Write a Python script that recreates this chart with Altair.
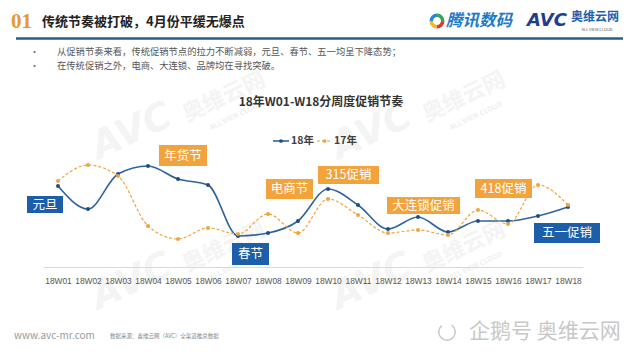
import altair as alt
import pandas as pd

FONT = "Noto Sans CJK SC"

# ---------------- data ----------------
weeks = ["18W01", "18W02", "18W03", "18W04", "18W05", "18W06", "18W07", "18W08", "18W09",
         "18W10", "18W11", "18W12", "18W13", "18W14", "18W15", "18W16", "18W17", "18W18"]
series_names = ["18年", "17年"]
values_18 = [84, 61, 96, 104, 91, 85, 34, 37, 49, 81, 65, 41, 53, 38, 49, 49, 54, 63]
values_17 = [89, 105, 94, 44, 31, 42, 36, 56, 37, 71, 55, 37, 40, 35, 60, 46, 85, 65]

blue_labels = ["元旦", "春节", "五一促销"]
orange_labels = ["年货节", "电商节", "315促销", "大连锁促销", "418促销"]

title_num = "01"
title_text = "传统节奏被打破，4月份平缓无爆点"
bullets = ["从促销节奏来看，传统促销节点的拉力不断减弱，元旦、春节、五一均呈下降态势；",
           "在传统促销之外，电商、大连锁、品牌均在寻找突破。"]
chart_title = "18年W01-W18分周度促销节奏"

df = pd.DataFrame({
    "week": weeks * 2,
    "value": values_18 + values_17,
    "series": [series_names[0]] * len(weeks) + [series_names[1]] * len(weeks),
})

BLUE_LINE = "#2E63A0"
BLUE_DOT = "#1F4E82"
ORANGE = "#EFA43C"
BOX_BLUE = "#1C5EA8"
BOX_ORANGE = "#F2A33C"

one = pd.DataFrame({"k": [0]})
OFF = 8  # page margin


def txt(s, x, y, size, color, weight="normal", align="left", baseline="middle",
        font=FONT, angle=0, style="normal"):
    kw = dict(text=s, align=align, baseline=baseline, fontSize=size, color=color,
              fontWeight=weight, font=font, fontStyle=style)
    if angle:
        kw["angle"] = angle
    return alt.Chart(one).mark_text(**kw).encode(x=alt.value(x - OFF), y=alt.value(y - OFF))


def box(x0, x1, y0, y1, color):
    return alt.Chart(one).mark_rect(color=color).encode(
        x=alt.value(x0 - OFF), x2=alt.value(x1 - OFF),
        y=alt.value(y0 - OFF), y2=alt.value(y1 - OFF))


def hrule(x0, x1, y, color, width, dash=None):
    kw = dict(color=color, strokeWidth=width)
    if dash:
        kw["strokeDash"] = dash
    return alt.Chart(one).mark_rule(**kw).encode(
        x=alt.value(x0 - OFF), x2=alt.value(x1 - OFF), y=alt.value(y - OFF))


def dot(x, y, color, size=14):
    return alt.Chart(one).mark_point(filled=True, color=color, size=size, opacity=1).encode(
        x=alt.value(x - OFF), y=alt.value(y - OFF))


def arc(cx, cy, r, r2, t0, t1, color):
    return alt.Chart(one).mark_arc(theta=t0, theta2=t1, radius=r, radius2=r2, color=color).encode(
        x=alt.value(cx - OFF), y=alt.value(cy - OFF))


layers = []

# ---------------- watermarks ----------------
WM = "#f4f4f4"
for dx, dy in [(0, 0), (240, 0), (0, 150), (240, 150)]:
    layers.append(txt("AVC", 132 + dx, 132 + dy, 38, WM, weight="bold", align="center",
                      style="italic", font="DejaVu Sans", angle=335))
    layers.append(txt("奥维云网", 224 + dx, 97 + dy, 22, WM, weight="bold", align="center", angle=335))
    layers.append(txt("ALL VIEW CLOUD", 236 + dx, 116 + dy, 7, "#efefef", weight="bold",
                      align="center", angle=335))

# ---------------- header ----------------
layers.append(txt(title_num, 11, 22, 21, "#E39B35", weight="bold", font="Liberation Serif"))
layers.append(txt(title_text, 42, 22, 13, "#222222", weight="bold"))
layers.append(hrule(16, 623, 38.5, "#2A5C86", 2.5))

# logos
layers.append(arc(437, 21, 7.5, 4, 0, 1.6, "#3BA84A"))
layers.append(arc(437, 21, 7.5, 4, 1.6, 3.2, "#E5372C"))
layers.append(arc(437, 21, 7.5, 4, 3.2, 4.7, "#F4B527"))
layers.append(arc(437, 21, 7.5, 4, 4.7, 6.283, "#2A88D6"))
layers.append(txt("腾讯数码", 446, 21, 16.5, "#1F79C9", weight="bold", style="italic"))
layers.append(txt("AVC", 527, 21, 18, "#1E3D8F", weight="bold", style="italic", font="DejaVu Sans"))
layers.append(txt("奥维云网", 571, 17, 12, "#1E5FB0", weight="bold"))
layers.append(txt("ALL VIEW CLOUD", 597, 30, 4, "#555555", align="center"))

# bullets
for i, b in enumerate(bullets):
    yy = 52 + 14 * i
    layers.append(txt("•", 30, yy, 9, "#666666"))
    layers.append(txt(b, 57, yy, 9.3, "#555555"))

# chart title & legend
layers.append(txt(chart_title, 321, 102, 12, "#333333", weight="bold", align="center"))
layers.append(hrule(273, 289, 141, BLUE_LINE, 1.6))
layers.append(dot(281, 141, BLUE_DOT))
layers.append(txt(series_names[0], 291, 141, 10.5, "#404040", weight="bold"))
layers.append(hrule(317, 332, 141, ORANGE, 1.2, dash=[3, 2]))
layers.append(dot(324.5, 141, ORANGE))
layers.append(txt(series_names[1], 334, 141, 10.5, "#404040", weight="bold"))

# ---------------- lines ----------------
x_enc = alt.X("week:O", sort=weeks,
              scale=alt.Scale(type="point", domain=weeks, range=[35, 575], padding=0.5),
              axis=alt.Axis(title=None, offset=-85, ticks=False, labelAngle=0, labelFontSize=8.4,
                            labelColor="#555555", domainColor="#d9d9d9", domainWidth=1,
                            labelPadding=9, grid=False, labelFont="Liberation Sans",
                            labelOverlap=False, zindex=1))
y_enc = alt.Y("value:Q", scale=alt.Scale(domain=[0, 120], range=[262, 142]), axis=None)

base = alt.Chart(df)
line18 = base.transform_filter(alt.datum.series == series_names[0]).mark_line(
    interpolate="monotone", color=BLUE_LINE, strokeWidth=1.6).encode(x=x_enc, y=y_enc)
pts18 = base.transform_filter(alt.datum.series == series_names[0]).mark_circle(
    color=BLUE_DOT, size=16, opacity=1).encode(x=x_enc, y=y_enc)
line17 = base.transform_filter(alt.datum.series == series_names[1]).mark_line(
    interpolate="monotone", color=ORANGE, strokeWidth=1.2, strokeDash=[3, 2]).encode(x=x_enc, y=y_enc)
pts17 = base.transform_filter(alt.datum.series == series_names[1]).mark_circle(
    color=ORANGE, size=16, opacity=1).encode(x=x_enc, y=y_enc)
layers += [line18, pts18, line17, pts17]

# ---------------- annotation boxes ----------------
blue_boxes = [(27, 63, 196, 213), (232, 269, 243, 265), (534, 600, 223, 243)]
orange_boxes = [(159, 207, 145, 166), (266, 313, 179, 199), (318, 379, 166, 184),
                (387, 460, 197, 214), (475, 532, 179, 198)]
for lab, (x0, x1, y0, y1) in zip(blue_labels, blue_boxes):
    layers.append(box(x0, x1, y0, y1, BOX_BLUE))
    layers.append(txt(lab, (x0 + x1) / 2, (y0 + y1) / 2, 12.5, "white", align="center"))
for lab, (x0, x1, y0, y1) in zip(orange_labels, orange_boxes):
    layers.append(box(x0, x1, y0, y1, BOX_ORANGE))
    layers.append(txt(lab, (x0 + x1) / 2, (y0 + y1) / 2, 12.5, "white", align="center"))

# ---------------- footer ----------------
layers.append(txt("www.avc-mr.com", 14, 336, 10, "#9a9a9a"))
layers.append(txt("数据来源：奥维云网（AVC）全渠道推总数据", 110, 336, 5.5, "#888888"))
layers.append(arc(447, 332, 9, 7.5, 0.6, 5.6, "#c8c8c8"))
layers.append(txt("企鹅号 奥维云网", 469, 332, 21, "#c8c8c8"))

chart = alt.layer(*layers).properties(
    width=624, height=344,
    autosize=alt.AutoSizeParams(type="none"),
    padding=0,
    background="white",
).configure_view(stroke=None)

chart.save("out.html", embed_options={"renderer": "svg", "actions": False})
